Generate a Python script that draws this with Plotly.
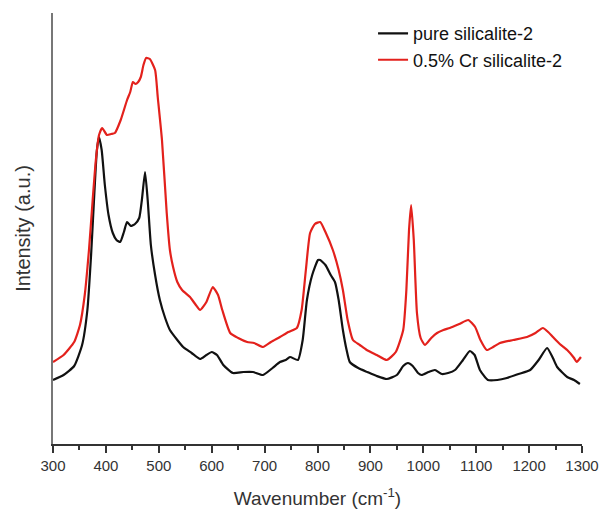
import plotly.graph_objects as go

# Wavenumber (cm^-1) and intensity (a.u.)
pure_wn = [300, 320, 340, 355, 365, 372, 378, 383, 387, 392, 398, 405, 413, 420, 427, 434, 440, 447, 455, 463,
           468, 474, 479, 485, 493, 502, 512, 521, 535, 546, 562, 578, 590, 600, 610, 622, 640, 660, 678, 697,
           715, 729, 740, 748, 763, 772, 780, 790, 801, 805, 815, 825, 833, 840, 848, 855, 861, 877, 894, 912,
           931, 950, 962, 971, 980, 990, 997, 1010, 1022, 1035, 1047, 1060, 1075, 1088, 1097, 1107, 1122, 1140,
           1158, 1180, 1202, 1218, 1234, 1245, 1253, 1272, 1285, 1296]
pure_int = [64, 69, 78, 99, 134, 189, 249, 294, 307, 294, 259, 229, 211, 204, 202, 212, 222, 218, 220, 226,
            244, 272, 244, 199, 169, 144, 126, 114, 104, 97, 91, 85, 89, 92, 89, 79, 71, 72, 72, 69,
            76, 82, 84, 87, 84, 104, 144, 169, 184, 184, 179, 169, 162, 144, 114, 94, 82, 76, 72, 68,
            65, 69, 78, 81, 78, 71, 69, 72, 74, 70, 71, 74, 84, 93, 89, 74, 64, 64,
            66, 70, 74, 84, 96, 86, 77, 67, 64, 60]

cr_wn = [300, 320, 340, 351, 360, 368, 375, 381, 387, 393, 402, 410, 417, 428, 440, 446, 451, 456, 461, 466,
         471, 476, 483, 493, 498, 506, 515, 521, 527, 535, 544, 559, 570, 578, 590, 602, 612, 620, 635, 650,
         667, 680, 697, 712, 729, 745, 761, 770, 778, 786, 795, 805, 815, 829, 840, 848, 857, 867, 880, 893,
         912, 931, 948, 962, 968, 973, 977, 982, 988, 995, 1003, 1015, 1026, 1038, 1050, 1068, 1085, 1098,
         1108, 1120, 1132, 1145, 1170, 1196, 1212, 1226, 1236, 1245, 1258, 1272, 1285, 1290, 1298]
cr_int = [82, 89, 102, 119, 149, 194, 244, 284, 309, 316, 309, 310, 311, 324, 344, 352, 362, 360, 362, 367,
          379, 386, 385, 374, 347, 304, 231, 194, 177, 162, 154, 147, 139, 134, 142, 157, 149, 134, 111, 106,
          102, 101, 97, 102, 107, 112, 116, 134, 174, 211, 220, 222, 212, 194, 174, 154, 124, 104, 99, 94,
          89, 84, 92, 114, 154, 214, 239, 204, 131, 106, 99, 106, 111, 114, 116, 120, 124, 117,
          104, 94, 97, 101, 104, 107, 111, 116, 112, 107, 100, 94, 86, 82, 87]

x_ticks = [300, 400, 500, 600, 700, 800, 900, 1000, 1100, 1200, 1300]

fig = go.Figure()
fig.add_trace(go.Scatter(x=pure_wn, y=pure_int, mode="lines", name="pure silicalite-2",
                         line=dict(color="#111111", width=2.2, shape="spline", smoothing=0.5)))
fig.add_trace(go.Scatter(x=cr_wn, y=cr_int, mode="lines", name="0.5% Cr silicalite-2",
                         line=dict(color="#e3211c", width=2.2, shape="spline", smoothing=0.5)))

fig.update_layout(
    width=601, height=509,
    margin=dict(l=53, r=19, t=13, b=65, autoexpand=False),
    paper_bgcolor="white", plot_bgcolor="white",
    font=dict(family="Liberation Sans, Arial, sans-serif", color="#333333"),
    legend=dict(x=0.605, y=0.995, xanchor="left", yanchor="top",
                font=dict(size=18, color="#111111"), bgcolor="rgba(0,0,0,0)",
                borderwidth=0, itemwidth=30, tracegroupgap=0),
    xaxis=dict(range=[300, 1300], tickvals=x_ticks, ticktext=[str(v) for v in x_ticks],
               ticks="outside", ticklen=7, tickwidth=1.5, tickcolor="#333333",
               minor=dict(dtick=50, tick0=300, ticks="outside", ticklen=4, tickwidth=1.5, tickcolor="#333333"),
               showline=True, linecolor="#333333", linewidth=2,
               showgrid=False, zeroline=False, automargin=False,
               tickfont=dict(size=15, color="#333333"),
               title=dict(text="Wavenumber (cm<sup>-1</sup>)", font=dict(size=19, color="#333333"), standoff=19)),
    yaxis=dict(range=[0, 431], showticklabels=False, ticks="",
               showline=True, linecolor="#777777", linewidth=2,
               showgrid=False, zeroline=False, automargin=False,
               title=dict(text="Intensity (a.u.)", font=dict(size=20, color="#333333"), standoff=15)),
)

fig.write_html("out.html")
